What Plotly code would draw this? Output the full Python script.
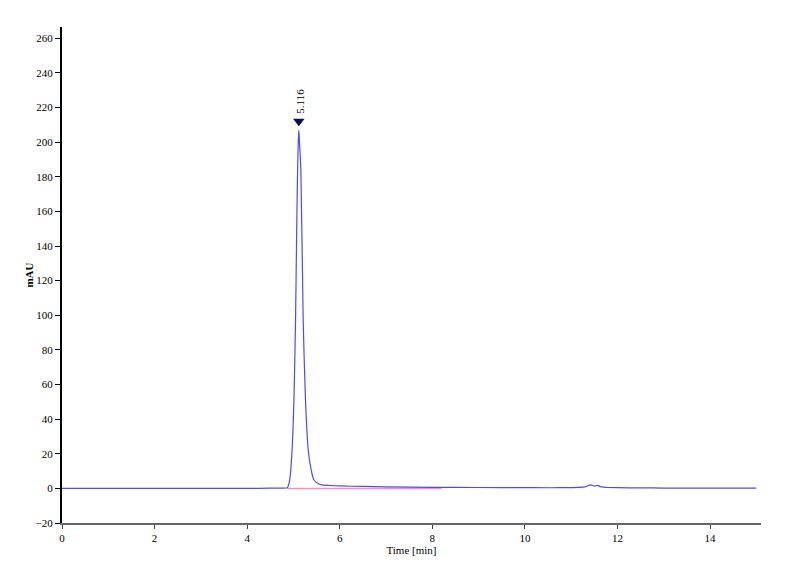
import plotly.graph_objects as go

# chromatogram signal (time in min, signal in mAU)
time_min = [0.0, 1.0, 2.0, 3.0, 4.0, 4.5, 4.8, 4.87, 4.92, 4.97, 5.01, 5.045,
            5.07, 5.09, 5.105, 5.116, 5.13, 5.16, 5.21, 5.26, 5.32, 5.38, 5.44,
            5.52, 5.61, 5.75, 6.0, 6.5, 7.0, 8.0, 9.0, 10.0, 10.8, 11.3, 11.42,
            11.5, 11.57, 11.63, 11.7, 11.8, 12.0, 12.5, 13.0, 14.0, 15.0]
signal_mau = [0.0, 0.0, 0.0, 0.0, 0.0, 0.1, 0.2, 0.4, 5.0, 22.0, 51.0, 97.0,
              150.0, 184.0, 201.0, 207.0, 200.0, 184.0, 97.0, 51.0, 22.0, 11.0, 5.0,
              3.0, 2.0, 1.7, 1.4, 1.1, 0.9, 0.6, 0.5, 0.4, 0.4, 0.9, 2.0,
              1.3, 1.7, 1.0, 0.7, 0.5, 0.4, 0.3, 0.2, 0.1, 0.1]

# integration baseline under the main peak
baseline_t = [4.87, 8.2]
baseline_y = [0.0, 0.0]

peak_time = 5.116
peak_label = "5.116"
peak_marker_y = 212

x_ticks = [0, 2, 4, 6, 8, 10, 12, 14]
y_ticks = list(range(-20, 261, 20))

serif = "Liberation Serif, Times New Roman, serif"
tick_font = dict(family=serif, size=11, color="black")

fig = go.Figure()
fig.add_trace(go.Scatter(x=baseline_t, y=baseline_y, mode="lines",
                         line=dict(color="#ff8cc6", width=1.5),
                         hoverinfo="skip", showlegend=False))
fig.add_trace(go.Scatter(x=time_min, y=signal_mau, mode="lines",
                         line=dict(color="#4a4aff", width=1.2, shape="spline", smoothing=0.6),
                         showlegend=False))
fig.add_trace(go.Scatter(x=[peak_time], y=[peak_marker_y], mode="markers",
                         marker=dict(symbol="triangle-down", size=10, color="#0a0a60"),
                         showlegend=False))

fig.add_annotation(x=peak_time, y=peak_marker_y, text=peak_label, showarrow=False,
                   textangle=-90, yanchor="bottom", yshift=6, xshift=1,
                   font=dict(family=serif, size=11, color="black"))

# page body adds 8px, margins compensate for it
fig.update_layout(
    width=800, height=587,
    margin=dict(l=54, r=47, t=19, b=72),
    plot_bgcolor="white", paper_bgcolor="white",
    font=dict(family=serif, size=11, color="black"),
    xaxis=dict(range=[0, 15.1], tickvals=x_ticks, showgrid=False, zeroline=False,
               showline=True, linecolor="#666666", linewidth=2, automargin=False,
               ticks="outside", ticklen=4, tickcolor="#444444", tickwidth=1,
               tickfont=tick_font,
               title=dict(text="Time [min]", font=dict(family=serif, size=11), standoff=0)),
    yaxis=dict(range=[-20, 266.5], tickvals=y_ticks, showgrid=False, zeroline=False,
               showline=True, linecolor="black", linewidth=2, automargin=False,
               ticks="outside", ticklen=5, tickcolor="black", tickwidth=1,
               tickfont=tick_font,
               title=dict(text="<b>mAU</b>", font=dict(family=serif, size=11), standoff=0)),
)

fig.write_html("out.html")
